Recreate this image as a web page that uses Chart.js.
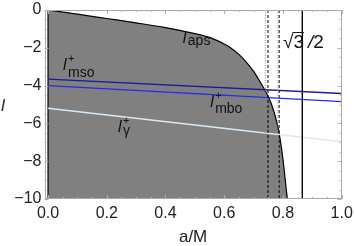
<!DOCTYPE html>
<html>
<head>
<meta charset="utf-8">
<script src="https://cdn.jsdelivr.net/npm/chart.js@4"></script>
<style>
html,body{margin:0;padding:0;background:#fff;}
#c{display:block;}
</style>
</head>
<body>
<canvas id="c" width="354" height="246"></canvas>
<script>
// ---- data ----
const apsA = [0, 0.1, 0.2, 0.3, 0.4, 0.5, 0.55, 0.6, 0.62, 0.65, 0.68, 0.70, 0.72, 0.74, 0.76, 0.78, 0.79, 0.80, 0.81, 0.815];
const apsL = [0, -0.22, -0.45, -0.68, -0.93, -1.25, -1.45, -1.8, -1.98, -2.35, -2.85, -3.25, -3.75, -4.28, -4.95, -6.0, -6.8, -7.9, -9.3, -10];
const lineA = [0, 1];
const msoL = [-3.66, -4.42];
const mboL = [-4.0, -4.85];
const gammaL = [-5.2, -6.97];
const dottedA = [0.740, 0.783];
const dashedA = [0.749, 0.787];
const solidA = [0.866];
const xTicks = [0, 0.2, 0.4, 0.6, 0.8, 1.0];
const xTickLabels = ["0.0", "0.2", "0.4", "0.6", "0.8", "1.0"];
const yTicks = [0, -2, -4, -6, -8, -10];
const yTickLabels = ["0", "\u22122", "\u22124", "\u22126", "\u22128", "\u221210"];
const curveLabels = [
  {sub: "aps", sup: ""},
  {sub: "mso", sup: "+"},
  {sub: "mbo", sup: "+"},
  {sub: "\u03b3", sup: "+"}
];
const curveLabelAt = [[0.459, -1.75], [0.051, -3.17], [0.552, -5.13], [0.238, -6.46]];
const curveLabelSubDy = [2, 7, 6, 3];
const sqrtLabelAt = [0.80, -2.01];
const xTitle = "a/M";
const yTitle = "l";

const pts = (xs, ys) => xs.map((x, i) => ({x: x, y: ys[i]}));
const vline = (a) => [{x: a, y: 0}, {x: a, y: -10}];

const datasets = [
  {data: pts(apsA, apsL), borderColor: '#000', borderWidth: 1.2, backgroundColor: '#808080',
   fill: 'start', pointRadius: 0, cubicInterpolationMode: 'monotone', order: 10},
  {data: vline(0), borderColor: '#000', borderWidth: 1.2, pointRadius: 0, fill: false, order: 5},
  {data: pts(lineA, gammaL), borderColor: '#d8eaf8', borderWidth: 1.6, pointRadius: 0, fill: false, order: 4},
  {data: pts(lineA, mboL), borderColor: '#2828f0', borderWidth: 1.4, pointRadius: 0, fill: false, order: 3},
  {data: pts(lineA, msoL), borderColor: '#1a1a9a', borderWidth: 1.4, pointRadius: 0, fill: false, order: 3},
];
dottedA.forEach(a => datasets.push({data: vline(a), borderColor: '#8a8a8a', borderWidth: 1, borderDash: [1, 1.5], pointRadius: 0, fill: false, order: 1}));
dashedA.forEach(a => datasets.push({data: vline(a), borderColor: '#000', borderWidth: 1, borderDash: [3, 2], pointRadius: 0, fill: false, order: 1}));
solidA.forEach(a => datasets.push({data: vline(a), borderColor: '#000', borderWidth: 1, pointRadius: 0, fill: false, order: 1}));

const FONT = '"Liberation Sans", Arial, sans-serif';

const deco = {
  id: 'deco',
  afterDraw(chart) {
    const ctx = chart.ctx, ca = chart.chartArea;
    const xs = chart.scales.x, ys = chart.scales.y;
    ctx.save();
    // frame
    ctx.strokeStyle = '#a8a8a8';
    ctx.lineWidth = 1;
    ctx.strokeRect(Math.round(ca.left) + 0.5, Math.round(ca.top) + 0.5,
                   Math.round(ca.right - ca.left) - 1, Math.round(ca.bottom - ca.top) - 1);
    // inner ticks
    ctx.strokeStyle = '#b0b0b0';
    ctx.beginPath();
    for (let k = 0; k <= 20; k++) {
      const v = k * 0.05, px = Math.round(xs.getPixelForValue(v)) + 0.5;
      const len = (k % 4 === 0) ? 4 : 2;
      ctx.moveTo(px, ca.bottom); ctx.lineTo(px, ca.bottom - len);
      ctx.moveTo(px, ca.top); ctx.lineTo(px, ca.top + len);
    }
    for (let k = 0; k <= 20; k++) {
      const v = -k * 0.5, py = Math.round(ys.getPixelForValue(v)) + 0.5;
      const len = (k % 4 === 0) ? 4 : 2;
      ctx.moveTo(ca.left, py); ctx.lineTo(ca.left + len, py);
      ctx.moveTo(ca.right, py); ctx.lineTo(ca.right - len, py);
    }
    ctx.stroke();
    // curve labels
    ctx.fillStyle = '#111';
    ctx.textBaseline = 'alphabetic';
    ctx.textAlign = 'left';
    curveLabels.forEach((lab, i) => {
      const px = xs.getPixelForValue(curveLabelAt[i][0]);
      const py = ys.getPixelForValue(curveLabelAt[i][1]);
      ctx.font = 'italic 16px ' + FONT;
      ctx.fillText('l', px, py);
      if (lab.sup) {
        ctx.font = '11px ' + FONT;
        ctx.fillText(lab.sup, px + 5, py - 8);
      }
      ctx.font = '14px ' + FONT;
      ctx.fillText(lab.sub, px + 5, py + curveLabelSubDy[i]);
    });
    // sqrt(3)/2 label
    {
      const px = xs.getPixelForValue(sqrtLabelAt[0]);
      const py = ys.getPixelForValue(sqrtLabelAt[1]);
      ctx.font = '19px ' + FONT;
      ctx.fillText('\u221a', px, py);
      const w1 = ctx.measureText('\u221a').width;
      ctx.fillText('3', px + w1, py);
      const w3 = ctx.measureText('3').width;
      ctx.strokeStyle = '#111';
      ctx.lineWidth = 1;
      ctx.beginPath();
      ctx.moveTo(px + w1 - 1, py - 15.5); ctx.lineTo(px + w1 + w3, py - 15.5);
      ctx.stroke();
      ctx.font = 'italic 19px ' + FONT;
      ctx.fillText('/', px + w1 + w3 + 4, py);
      ctx.font = '19px ' + FONT;
      ctx.fillText('2', px + w1 + w3 + 4 + ctx.measureText('/').width, py);
    }
    // axis titles
    ctx.font = '17px ' + FONT;
    ctx.textAlign = 'center';
    ctx.fillStyle = '#222';
    ctx.fillText(xTitle, (ca.left + ca.right) / 2, 242);
    ctx.font = 'italic 17px ' + FONT;
    ctx.textAlign = 'left';
    ctx.fillText(yTitle, 1, 111);
    ctx.restore();
  }
};

new Chart(document.getElementById('c'), {
  type: 'line',
  data: {datasets: datasets},
  options: {
    responsive: false,
    devicePixelRatio: 1,
    animation: false,
    events: [],
    layout: {padding: {left: 0, right: 12.3, top: 10, bottom: 0}},
    plugins: {legend: {display: false}, tooltip: {enabled: false}},
    scales: {
      x: {
        type: 'linear', min: -0.012, max: 1.0,
        afterFit(s) { s.height = 47; s.paddingLeft = 0; s.paddingRight = 0; },
        afterBuildTicks(s) { s.ticks = xTicks.map(v => ({value: v})); },
        grid: {display: false, drawTicks: false},
        border: {display: false},
        ticks: {
          font: {family: FONT, size: 16}, color: '#222', padding: 5, maxRotation: 0,
          callback: (v) => { const i = xTicks.findIndex(t => Math.abs(t - v) < 1e-9); return i >= 0 ? xTickLabels[i] : ''; }
        }
      },
      y: {
        type: 'linear', min: -10, max: 0,
        afterFit(s) { s.width = 44.5; s.paddingTop = 0; s.paddingBottom = 0; },
        afterBuildTicks(s) { s.ticks = yTicks.map(v => ({value: v})); },
        grid: {display: false, drawTicks: false},
        border: {display: false},
        ticks: {
          font: {family: FONT, size: 16}, color: '#222', padding: 3,
          callback: (v) => { const i = yTicks.findIndex(t => Math.abs(t - v) < 1e-9); return i >= 0 ? yTickLabels[i] : ''; }
        }
      }
    }
  },
  plugins: [deco]
});
</script>
</body>
</html>
